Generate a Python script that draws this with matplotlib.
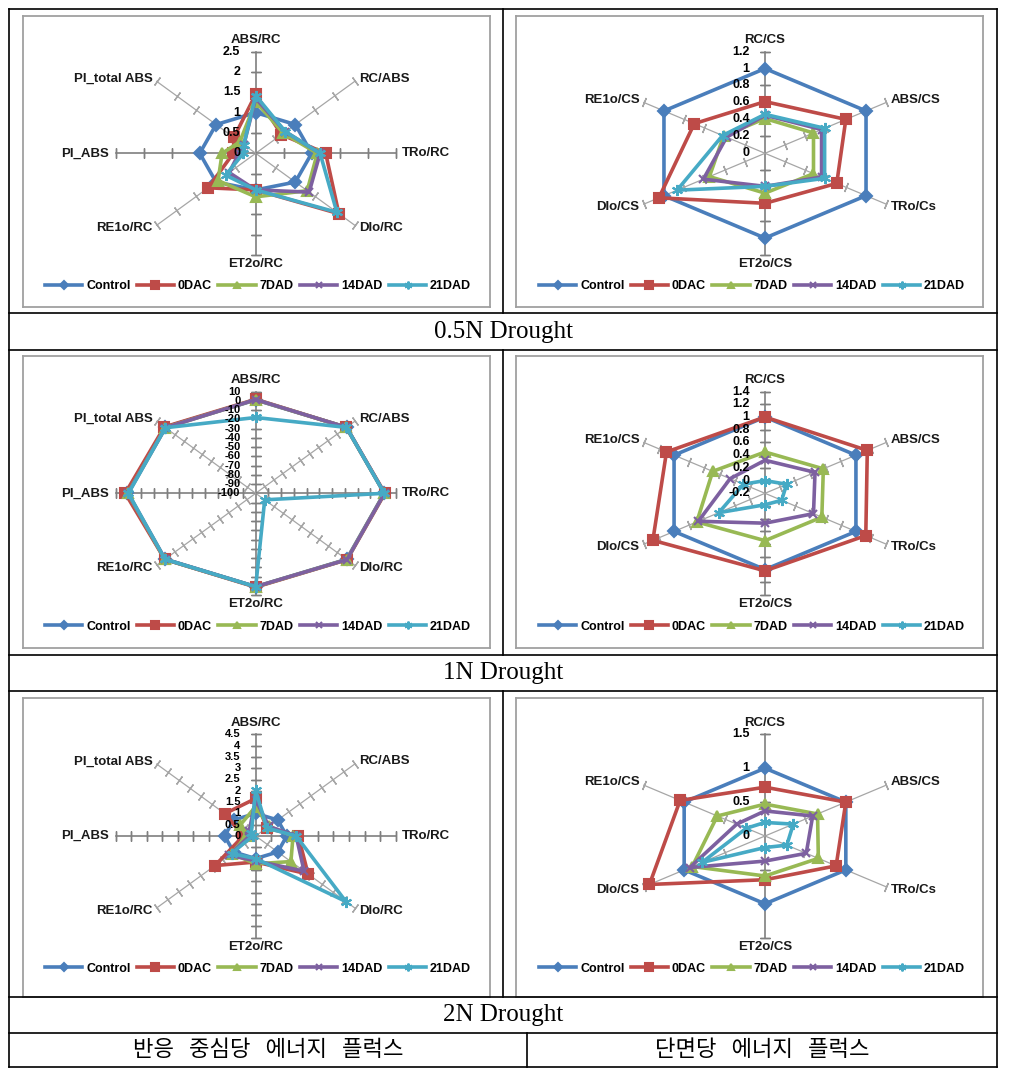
import numpy as np
import matplotlib
matplotlib.use('Agg')
import matplotlib.pyplot as plt

plt.rcParams['font.family'] = ['Liberation Sans', 'DejaVu Sans']

# series (legend) and their Excel-like styles
series_names = ['Control', '0DAC', '7DAD', '14DAD', '21DAD']
series_colors = ['#4A7EBB', '#BE4B48', '#98B954', '#7D60A0', '#46AAC5']
series_markers = ['D', 's', '^', 'x', (6, 2, 0)]
marker_sizes = [6, 7.5, 7, 6, 8]

rc_params = ['ABS/RC', 'RC/ABS', 'TRo/RC', 'DIo/RC', 'ET2o/RC', 'RE1o/RC', 'PI_ABS', 'PI_total ABS']
cs_params = ['RC/CS', 'ABS/CS', 'TRo/Cs', 'ET2o/CS', 'DIo/CS', 'RE1o/CS']

conditions = ['0.5N Drought', '1N Drought', '2N Drought']
column_titles = ['반응   중심당   에너지   플럭스', '단면당   에너지   플럭스']

# 0.5N drought
rc_05 = [[1, 1, 1, 1, 0.9, 1, 1, 1],
         [1.45, 0.65, 1.25, 2.1, 0.9, 1.2, 0.4, 0.55],
         [1.27, 0.7, 1.1, 1.3, 1.07, 0.95, 0.6, 0.4],
         [1.35, 0.75, 1.15, 1.35, 0.9, 0.67, 0.3, 0.3],
         [1.42, 0.75, 1.15, 2.05, 0.9, 0.76, 0.22, 0.3]]
cs_05 = [[1, 1, 1, 1, 1, 1],
         [0.61, 0.8, 0.71, 0.59, 1.05, 0.7],
         [0.41, 0.48, 0.48, 0.47, 0.55, 0.41],
         [0.45, 0.56, 0.56, 0.39, 0.61, 0.38],
         [0.46, 0.59, 0.59, 0.39, 0.87, 0.42]]

# 1N drought
rc_1 = [[1, 1, 1, 1, 1, 1, 1, 1],
        [1.7, 0.8, 1.5, 1.5, 1.5, 1.0, 2.5, 1.5],
        [1.3, 0.7, 1.1, 1.3, 1.1, 1.0, 0.5, 0.4],
        [1.4, 0.8, 1.2, 1.4, 1.0, 0.7, 0.3, 0.3],
        [-18, 0.8, 1.1, -90, 1.0, 0.8, 0.0, 0.3]]
cs_1 = [[1, 1, 1, 1, 1, 1],
        [1.0, 1.15, 1.13, 1.02, 1.28, 1.1],
        [0.45, 0.57, 0.55, 0.545, 0.7, 0.49],
        [0.32, 0.46, 0.44, 0.27, 0.68, 0.26],
        [0.0, 0.085, 0.02, -0.02, 0.41, 0.085]]

# 2N drought
rc_2 = [[1, 1, 1, 1, 1, 1, 1, 1],
        [1.66, 0.5, 1.37, 2.38, 1.15, 1.85, 0.4, 1.4],
        [1.3, 0.6, 1.2, 1.6, 1.23, 1.1, 0.3, 0.7],
        [1.6, 0.6, 1.3, 2.2, 1.1, 1.2, 0.2, 0.3],
        [2.03, 0.5, 1.3, 4.1, 1.0, 1.1, 0.1, 0.2]]
cs_2 = [[1, 1, 1, 1, 1, 1],
        [0.72, 1.0, 0.88, 0.645, 1.43, 1.05],
        [0.47, 0.65, 0.66, 0.59, 0.9, 0.59],
        [0.37, 0.59, 0.51, 0.37, 0.93, 0.35],
        [0.2, 0.35, 0.27, 0.17, 0.78, 0.23]]

# (params, values, axis min, axis max, major unit) for each cell, row by row
panels = [(rc_params, rc_05, 0, 2.5, 0.5), (cs_params, cs_05, 0, 1.2, 0.2),
          (rc_params, rc_1, -100, 10, 10), (cs_params, cs_1, -0.2, 1.4, 0.2),
          (rc_params, rc_2, 0, 4.5, 0.5), (cs_params, cs_2, 0, 1.5, 0.5)]

# page geometry in pixels
W, H = 1011, 1084
RX, RY = 140, 101.7          # radar is stretched horizontally in the source
col_x0, col_x1, col_cx, col_lx = [22.7, 516], [490, 983.3], [255.7, 765], [258, 752]
row_y0, row_y1, row_cy = [16, 356, 698.3], [306.7, 647.7, 997], [153.3, 493.3, 836]

fig = plt.figure(figsize=(W / 100, H / 100), dpi=100)
fig.patch.set_facecolor('white')


def radar(ax, params, values, vmin, vmax, step):
    n = len(params)
    theta = np.arange(n) * 2 * np.pi / n
    sx, sy = np.sin(theta), np.cos(theta)
    sx[np.abs(sx) < 1e-9] = 0
    sy[np.abs(sy) < 1e-9] = 0
    ticks = np.round(np.arange(vmin, vmax + step / 2, step), 6)
    tnorm = (ticks - vmin) / (vmax - vmin)
    tick_fs = 9 if len(ticks) < 10 else 8

    # spokes with cross tick marks
    for i in range(n):
        main = sx[i] == 0 or sy[i] == 0
        col = '#7F7F7F' if main else '#A6A6A6'
        ax.plot([0, sx[i]], [0, sy[i]], color=col, lw=1.2 if main else 0.9, zorder=1)
        phi = np.degrees(np.arctan2(sy[i] * RY, sx[i] * RX))
        ax.plot(tnorm[1:] * sx[i], tnorm[1:] * sy[i], ls='none', marker=(2, 2, phi),
                ms=7, mec=col, mew=1.0, zorder=1)

    # data series
    for k, name in enumerate(series_names):
        r = (np.array(values[k], dtype=float) - vmin) / (vmax - vmin)
        r = np.append(r, r[0])
        xs = r * np.append(sx, sx[0])
        ys = r * np.append(sy, sy[0])
        c = series_colors[k]
        ax.plot(xs, ys, color=c, lw=2.6, marker=series_markers[k], ms=marker_sizes[k],
                mfc=c, mec=c, mew=1.5, label=name, zorder=3 + k, markevery=list(range(n)))

    # value labels on the top spoke
    for v, t in zip(ticks, tnorm):
        ax.annotate(f'{v + 0.0:g}', xy=(0, t), xytext=(-11, 0), textcoords='offset points',
                    ha='right', va='center', fontsize=tick_fs, fontweight='bold', zorder=20)

    # category labels
    for i, p in enumerate(params):
        if sx[i] == 0:
            ha, va = 'center', ('bottom' if sy[i] > 0 else 'top')
            off = (0, 4 if sy[i] > 0 else -2.5)
        elif sy[i] == 0:
            ha, va = ('left' if sx[i] > 0 else 'right'), 'center'
            off = (4.5 if sx[i] > 0 else -5, 0)
        else:
            ha, va = ('left' if sx[i] > 0 else 'right'), 'center'
            off = (3 * np.sign(sx[i]), 2 * np.sign(sy[i]))
        ax.annotate(p, xy=(sx[i], sy[i]), xytext=off, textcoords='offset points',
                    ha=ha, va=va, fontsize=9.5, fontweight='bold', color='#1A1A1A')


for idx, (params, values, vmin, vmax, step) in enumerate(panels):
    row, col = divmod(idx, 2)
    x0, x1, cx = col_x0[col], col_x1[col], col_cx[col]
    y0, y1, cy = row_y0[row], row_y1[row], row_cy[row]
    ax = fig.add_axes([x0 / W, 1 - y1 / H, (x1 - x0) / W, (y1 - y0) / H])
    ax.set_xlim((x0 - cx) / RX, (x1 - cx) / RX)
    ax.set_ylim((cy - y1) / RY, (cy - y0) / RY)
    ax.set_xticks([])
    ax.set_yticks([])
    for s in ax.spines.values():
        s.set_color('#A0A0A0')
        s.set_linewidth(1.3)
    radar(ax, params, values, vmin, vmax, step)
    ax.legend(loc='center', bbox_to_anchor=(col_lx[col] / W, 1 - (y0 + 270.5) / H),
              bbox_transform=fig.transFigure, ncol=5, frameon=False, numpoints=1,
              markerscale=0.7, handlelength=3.0, handletextpad=0.3, columnspacing=0.5,
              prop={'size': 9, 'weight': 'bold'})

# table grid and captions on top
tab = fig.add_axes([0, 0, 1, 1], zorder=30)
tab.set_xlim(0, W)
tab.set_ylim(H, 0)
tab.axis('off')
tab.patch.set_alpha(0)
lk = dict(color='black', lw=1.2, solid_capstyle='projecting')
left, right, top, bottom = 9, 997, 9, 1067
for y in [top, 313, 350, 654.5, 691, 997, 1033, bottom]:
    tab.plot([left, right], [y, y], **lk)
tab.plot([left, left], [top, bottom], **lk)
tab.plot([right, right], [top, bottom], **lk)
for ya, yb in [(top, 313), (350, 654.5), (691, 997)]:
    tab.plot([503, 503], [ya, yb], **lk)
tab.plot([527, 527], [1033, bottom], **lk)

for cond, yc in zip(conditions, [332, 673, 1015]):
    tab.text(503, yc, cond, ha='center', va='center', fontsize=18,
             family=['Liberation Serif', 'DejaVu Serif'])
for title, xc in zip(column_titles, [268, 762]):
    tab.text(xc, 1050, title, ha='center', va='center', fontsize=16,
             family=['Noto Sans CJK KR', 'DejaVu Sans'])

fig.savefig('out.png', dpi=100)
